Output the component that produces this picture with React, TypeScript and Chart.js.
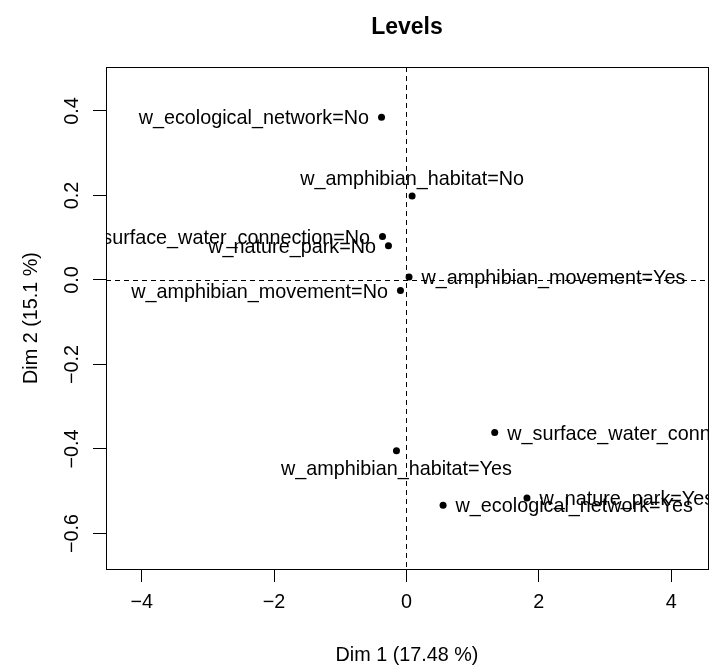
import React, { useEffect, useRef } from "react";
import { Chart, registerables } from "chart.js";

Chart.register(...registerables);

// ---- data ----
const levelNames = [
  "w_ecological_network=No",
  "w_amphibian_habitat=No",
  "w_surface_water_connection=No",
  "w_nature_park=No",
  "w_amphibian_movement=Yes",
  "w_amphibian_movement=No",
  "w_amphibian_habitat=Yes",
  "w_surface_water_connection=Yes",
  "w_ecological_network=Yes",
  "w_nature_park=Yes",
];
const dim1 = [-0.377, 0.085, -0.362, -0.272, 0.039, -0.091, -0.151, 1.333, 0.553, 1.82];
const dim2 = [0.385, 0.199, 0.103, 0.081, 0.007, -0.025, -0.404, -0.361, -0.533, -0.516];
const xTickValues = [-4, -2, 0, 2, 4];
const yTickValues = [-0.6, -0.4, -0.2, 0, 0.2, 0.4];
const titleText = "Levels";
const xTitle = "Dim 1 (17.48 %)";
const yTitle = "Dim 2 (15.1 %)";

// label placement (style): side of the point where the label is written
const labelSides = ["left", "above", "left", "left", "right", "left", "below", "right", "right", "right"];

const FONT = "'Liberation Sans', Arial, Helvetica, sans-serif";
const FS = 19.8;

const minus = (s: string) => s.replace("-", "\u2212");

const overlayPlugin = {
  id: "overlay",
  beforeDatasetsDraw(chart: any) {
    const { ctx, chartArea: a, scales } = chart;
    const xs = scales.x;
    const ys = scales.y;
    ctx.save();
    ctx.strokeStyle = "#000";
    ctx.lineWidth = 1;
    ctx.setLineDash([5, 4]);
    const px = Math.round(xs.getPixelForValue(0)) + 0.5;
    const py = Math.round(ys.getPixelForValue(0)) + 0.5;
    ctx.beginPath();
    ctx.moveTo(px, a.top);
    ctx.lineTo(px, a.bottom);
    ctx.moveTo(a.left, py);
    ctx.lineTo(a.right, py);
    ctx.stroke();
    ctx.restore();
  },
  afterDatasetsDraw(chart: any) {
    const { ctx, chartArea: a } = chart;
    const meta = chart.getDatasetMeta(0);
    ctx.save();
    ctx.beginPath();
    ctx.rect(a.left, a.top, a.right - a.left, a.bottom - a.top);
    ctx.clip();
    ctx.fillStyle = "#000";
    ctx.font = `${FS}px ${FONT}`;
    ctx.textBaseline = "alphabetic";
    const cap = FS * 0.716;
    const gap = 12.5;
    meta.data.forEach((pt: any, i: number) => {
      const side = labelSides[i];
      const text = levelNames[i];
      const x = pt.x;
      const y = pt.y;
      if (side === "left") {
        ctx.textAlign = "right";
        ctx.fillText(text, x - gap, y + cap / 2);
      } else if (side === "right") {
        ctx.textAlign = "left";
        ctx.fillText(text, x + gap, y + cap / 2);
      } else if (side === "above") {
        ctx.textAlign = "center";
        ctx.fillText(text, x, y - 11);
      } else {
        ctx.textAlign = "center";
        ctx.fillText(text, x, y + 24.5);
      }
    });
    ctx.restore();
    // plot box
    ctx.save();
    ctx.strokeStyle = "#000";
    ctx.lineWidth = 1;
    const l = Math.round(a.left) + 0.5;
    const t = Math.round(a.top) + 0.5;
    const r = Math.round(a.right) + 0.5;
    const b = Math.round(a.bottom) + 0.5;
    ctx.strokeRect(l, t, r - l, b - t);
    ctx.restore();
  },
};

export default function App() {
  const ref = useRef<HTMLCanvasElement | null>(null);
  useEffect(() => {
    if (!ref.current) return;
    const points = dim1.map((v, i) => ({ x: v, y: dim2[i] }));
    const chart = new Chart(ref.current, {
      type: "scatter",
      data: {
        datasets: [
          {
            data: points,
            pointRadius: 3.5,
            pointBackgroundColor: "#000",
            pointBorderWidth: 0,
            pointHoverRadius: 3.5,
          },
        ],
      },
      options: {
        responsive: false,
        animation: false,
        devicePixelRatio: 1,
        events: [],
        layout: { padding: { left: 0, right: 18, top: 0, bottom: 0 } },
        plugins: {
          legend: { display: false },
          tooltip: { enabled: false },
          title: {
            display: true,
            text: titleText,
            color: "#000",
            fullSize: false,
            font: { family: FONT, size: 23, weight: "bold" },
            padding: { top: 13.4, bottom: 26 },
          },
        },
        scales: {
          x: {
            type: "linear",
            position: "bottom",
            min: -4.539,
            max: 4.555,
            afterBuildTicks: (s: any) => {
              s.ticks = xTickValues.map((v) => ({ value: v }));
            },
            afterFit: (s: any) => {
              s.height = 100;
            },
            grid: { display: true, drawOnChartArea: false, drawTicks: true, tickLength: 13, color: "#000", tickColor: "#000" },
            border: { display: false },
            ticks: {
              color: "#000",
              font: { family: FONT, size: FS },
              padding: 9,
              autoSkip: false,
              maxRotation: 0,
              callback: (v: any) => minus(String(v)),
            },
            title: {
              display: true,
              text: xTitle,
              color: "#000",
              font: { family: FONT, size: FS },
              padding: { top: 0, bottom: 1.5 },
            },
          },
          y: {
            type: "linear",
            position: "left",
            min: -0.684,
            max: 0.504,
            afterBuildTicks: (s: any) => {
              s.ticks = yTickValues.map((v) => ({ value: v }));
            },
            afterFit: (s: any) => {
              s.width = 106;
            },
            grid: { display: true, drawOnChartArea: false, drawTicks: true, tickLength: 13, color: "#000", tickColor: "#000" },
            border: { display: false },
            ticks: {
              color: "#000",
              font: { family: FONT, size: FS },
              padding: 1,
              autoSkip: false,
              minRotation: 90,
              maxRotation: 90,
              crossAlign: "center",
              callback: (v: any) => minus(Number(v).toFixed(1)),
            },
            title: {
              display: true,
              text: yTitle,
              color: "#000",
              font: { family: FONT, size: FS },
              padding: { top: 20, bottom: 0 },
            },
          },
        },
      },
      plugins: [overlayPlugin],
    } as any);
    return () => chart.destroy();
  }, []);
  return (
    <div style={{ position: "fixed", left: 0, top: 0, width: 726, height: 669, background: "#fff" }}>
      <canvas ref={ref} width={726} height={669} style={{ display: "block", width: 726, height: 669 }} />
    </div>
  );
}
